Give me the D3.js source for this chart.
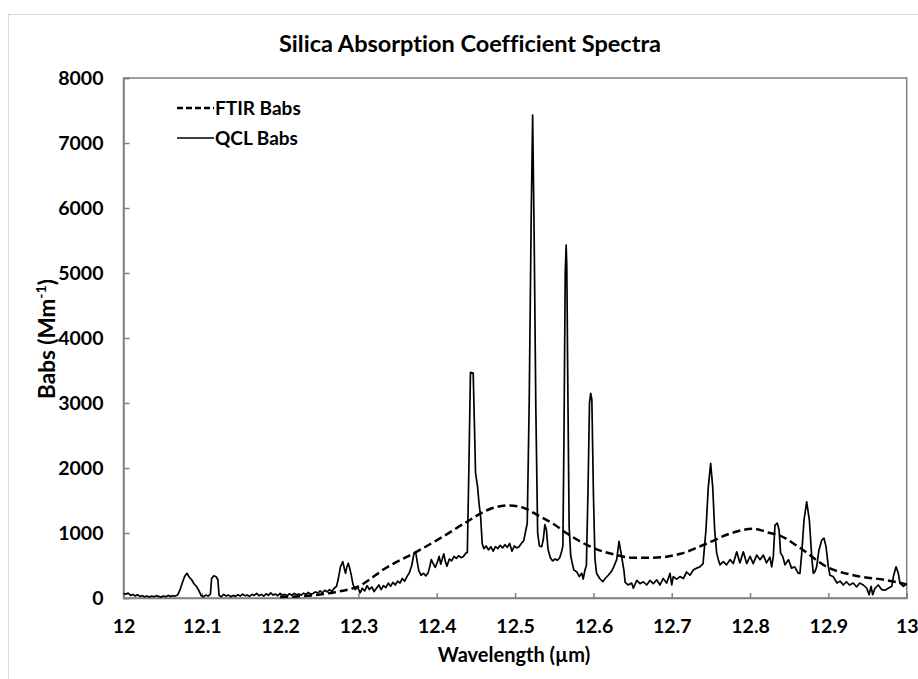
<!DOCTYPE html>
<html>
<head>
<meta charset="utf-8">
<script src="https://cdn.jsdelivr.net/npm/d3@7"></script>
<style>
  html, body { margin: 0; padding: 0; background: #fff; }
  svg { display: block; font-family: Lato, "Open Sans", sans-serif; font-variant-ligatures: none; font-feature-settings: "liga" 0, "clig" 0; }
</style>
</head>
<body>
<svg id="chart" width="918" height="679"></svg>
<script>
// ---------------- data ----------------
const xTicks = [12, 12.1, 12.2, 12.3, 12.4, 12.5, 12.6, 12.7, 12.8, 12.9, 13];
const yTicks = [0, 1000, 2000, 3000, 4000, 5000, 6000, 7000, 8000];
const seriesNames = ["FTIR Babs", "QCL Babs"];

const ftirWavelength = [12.20, 12.24, 12.27, 12.30, 12.336, 12.374, 12.41, 12.438, 12.468, 12.493, 12.51, 12.528, 12.55, 12.566, 12.60, 12.63, 12.65, 12.676, 12.711, 12.745, 12.774, 12.804, 12.825, 12.838, 12.864, 12.898, 12.932, 12.974, 13.0];
const ftirBabs = [15, 40, 90, 180, 470, 710, 960, 1170, 1370, 1425, 1390, 1280, 1130, 995, 770, 660, 620, 620, 680, 840, 990, 1065, 1000, 960, 770, 480, 350, 275, 210];

const qclWavelength = [
  12.000, 12.003, 12.006, 12.009, 12.012, 12.015, 12.018, 12.021, 12.024, 12.027, 12.030, 12.033, 12.036, 12.039, 12.042, 12.045, 12.048, 12.051, 12.054, 12.057, 12.060, 12.063, 12.066, 12.069,
  12.072, 12.075, 12.078, 12.081, 12.084, 12.087, 12.090, 12.093, 12.096, 12.099, 12.102, 12.105, 12.108, 12.111, 12.1125, 12.115, 12.118, 12.1205, 12.122, 12.125, 12.128, 12.131, 12.134, 12.137, 12.140, 12.143, 12.146, 12.149,
  12.152, 12.155, 12.158, 12.161, 12.164, 12.167, 12.170, 12.173, 12.176, 12.179, 12.182, 12.185, 12.188, 12.191, 12.194, 12.197, 12.200, 12.203, 12.206, 12.209, 12.212, 12.215, 12.218, 12.221, 12.224, 12.227, 12.230, 12.233, 12.236, 12.239, 12.242, 12.245, 12.248, 12.251, 12.254, 12.257, 12.260, 12.263, 12.266, 12.269,
  12.272, 12.274, 12.277, 12.280, 12.282, 12.2835, 12.285, 12.287, 12.289, 12.291, 12.293, 12.296, 12.299, 12.302, 12.305, 12.308, 12.311, 12.314, 12.317, 12.320, 12.323, 12.326, 12.329, 12.332, 12.335, 12.338, 12.341, 12.344, 12.347, 12.350, 12.353, 12.356, 12.359, 12.362, 12.365, 12.368,
  12.371, 12.373, 12.375, 12.377, 12.380, 12.383, 12.386, 12.389, 12.391, 12.393, 12.395, 12.398, 12.401, 12.403, 12.405, 12.407, 12.409, 12.411, 12.413, 12.416, 12.419, 12.422, 12.425, 12.428, 12.431, 12.434, 12.437, 12.439,
  12.441, 12.443, 12.4465, 12.448, 12.4495, 12.452, 12.454, 12.456, 12.458, 12.460, 12.463, 12.466, 12.469, 12.472, 12.475, 12.478, 12.481, 12.484, 12.487, 12.490, 12.493, 12.496, 12.499, 12.502, 12.505, 12.508, 12.511, 12.513,
  12.5155, 12.518, 12.5205, 12.5224, 12.5243, 12.5265, 12.5288, 12.531, 12.534, 12.536, 12.538, 12.540, 12.542, 12.545, 12.548, 12.551, 12.554, 12.557, 12.5595,
  12.561, 12.5625, 12.564, 12.5652, 12.566, 12.5675, 12.569, 12.571, 12.5725, 12.575, 12.5786, 12.582, 12.585, 12.587, 12.589,
  12.591, 12.593, 12.595, 12.5965, 12.598, 12.600, 12.602, 12.604, 12.608, 12.612, 12.615, 12.619, 12.623, 12.626, 12.6297, 12.6327, 12.636, 12.639, 12.6405,
  12.6445, 12.6488, 12.651, 12.6553, 12.6595, 12.6637, 12.668, 12.6722, 12.6765, 12.6808, 12.685, 12.689, 12.6936, 12.6978, 12.700, 12.702, 12.7063, 12.7105, 12.7148, 12.719, 12.7233, 12.7275, 12.732, 12.736, 12.740,
  12.7437, 12.7467, 12.7497, 12.7523, 12.7548, 12.7574, 12.7595, 12.7616, 12.7658, 12.770, 12.7744, 12.7786, 12.783, 12.787, 12.7914, 12.7957, 12.800, 12.804, 12.8085, 12.8127, 12.817, 12.821, 12.8253,
  12.8276, 12.8297, 12.8318, 12.8348, 12.837, 12.839, 12.8417, 12.8446, 12.849, 12.853, 12.857, 12.8616, 12.8637, 12.866, 12.8689, 12.8723, 12.8757, 12.8787, 12.8807, 12.883, 12.885, 12.888, 12.8915, 12.8944, 12.897, 12.900,
  12.902, 12.906, 12.911, 12.915, 12.919, 12.923, 12.927, 12.9318, 12.936, 12.940, 12.9446, 12.949, 12.952, 12.9545, 12.9566, 12.9595, 12.9637, 12.968, 12.972, 12.9765, 12.981, 12.983, 12.9864, 12.9893, 12.9914, 12.9957, 13.0
];
const qclBabs = [
  70, 60, 75, 40, 55, 30, 50, 25, 35, 20, 30, 15, 30, 20, 35, 25, 15, 30, 20, 40, 25, 35, 30, 45,
  120, 230, 330, 380, 320, 280, 220, 180, 120, 40, 20, 45, 30, 60, 300, 340, 330, 280, 40, 20, 55, 30, 45, 20, 40, 25, 50, 30,
  60, 35, 45, 25, 55, 40, 70, 35, 55, 30, 65, 40, 80, 45, 60, 35, 70, 45, 55, 35, 65, 40, 70, 50, 60, 45, 75, 55, 85, 60, 70, 95, 75, 110, 80, 120, 95, 130, 100, 150,
  180, 280, 480, 560, 450, 380, 470, 535, 450, 340, 210, 130, 170, 80, 150, 110, 190, 130, 170, 100, 150, 200, 130, 190, 160, 230, 180, 240, 200, 260, 230, 300, 260, 330, 390, 500,
  690, 710, 560, 420, 350, 380, 340, 390, 480, 590, 540, 470, 560, 640, 520, 600, 680, 560, 490, 600, 570, 640, 610, 650, 620, 640, 690, 700,
  2000, 3470, 3460, 2700, 1920, 1720, 1450, 1250, 840, 760, 800, 740, 790, 720, 790, 760, 810, 770, 820, 780, 840, 720, 800, 770, 790, 840, 880, 1000,
  1150, 3000, 5800, 7430, 5600, 2900, 1000, 800, 790, 900, 1130, 1050, 750, 620, 570, 600, 580, 620, 720,
  800, 2600, 5000, 5430, 5100, 3000, 1100, 650, 560, 430, 405, 330, 380, 290, 420,
  500, 1600, 3000, 3150, 3050, 1600, 600, 380, 300, 250, 300, 350, 410, 480, 590, 870, 640, 420, 240,
  200, 230, 150, 270, 220, 250, 200, 270, 220, 280, 200, 300, 230, 380, 200, 330, 290, 330, 300, 400, 350, 430, 460, 480, 530,
  1050, 1710, 2070, 1710, 1050, 690, 590, 510, 560, 510, 590, 530, 710, 540, 710, 530, 640, 530, 660, 590, 660, 540, 630,
  480, 640, 1120, 1150, 1050, 690, 640, 510, 590, 460, 480, 380, 380, 690, 1200, 1480, 1200, 640, 380, 410, 480, 740, 890, 920, 790, 480,
  350, 330, 230, 260, 200, 250, 200, 230, 170, 230, 200, 150, 50, 180, 50, 150, 200, 130, 120, 150, 180, 330, 480, 380, 230, 180, 220
];

// ---------------- layout ----------------
const svg = d3.select("#chart");
const plot = { left: 123.5, right: 906.7, top: 78, bottom: 598 };
const axisGray = "#808080";

const x = d3.scaleLinear().domain([12, 13]).range([plot.left, plot.right]);
const y = d3.scaleLinear().domain([0, 8000]).range([plot.bottom, plot.top]);

// outer chart-area border (light gray)
svg.append("rect")
  .attr("x", 8.5).attr("y", 14.5).attr("width", 1000).attr("height", 1000)
  .attr("fill", "none").attr("stroke", "#d9d9d9").attr("stroke-width", 1);

// title
svg.append("text")
  .attr("x", 470).attr("y", 52)
  .attr("text-anchor", "middle")
  .attr("font-size", 23.5).attr("font-weight", "bold").attr("fill", "#000")
  .text("Silica Absorption Coefficient Spectra");

// plot area border
svg.append("rect")
  .attr("x", plot.left).attr("y", plot.top)
  .attr("width", plot.right - plot.left).attr("height", plot.bottom - plot.top)
  .attr("fill", "none").attr("stroke", axisGray).attr("stroke-width", 1.5);

// axes
const xAxis = d3.axisBottom(x).tickValues(xTicks).tickSize(-5).tickPadding(21)
  .tickFormat(d => d3.format("")(+d.toFixed(1)));
const yAxis = d3.axisLeft(y).tickValues(yTicks).tickSize(-6).tickPadding(20)
  .tickFormat(d3.format("d"));

const gx = svg.append("g").attr("transform", `translate(0,${plot.bottom})`).call(xAxis);
const gy = svg.append("g").attr("transform", `translate(${plot.left},0)`).call(yAxis);
[gx, gy].forEach(g => {
  g.select(".domain").attr("stroke", axisGray).attr("stroke-width", 1.5);
  g.selectAll(".tick line").attr("stroke", axisGray).attr("stroke-width", 1.5);
  g.selectAll(".tick text").attr("fill", "#000").attr("font-size", 19.5).attr("font-weight", "bold")
    .attr("font-family", "Lato, 'Open Sans', sans-serif");
});

// axis titles
svg.append("text")
  .attr("x", 514).attr("y", 662)
  .attr("text-anchor", "middle")
  .attr("font-size", 20).attr("font-weight", "bold").attr("fill", "#000")
  .text("Wavelength (µm)");

const yt = svg.append("text")
  .attr("transform", "translate(55,339) rotate(-90)")
  .attr("text-anchor", "middle")
  .attr("font-size", 22.5).attr("font-weight", "bold").attr("fill", "#000");
yt.append("tspan").text("Babs (Mm");
yt.append("tspan").attr("font-size", 14).attr("dy", -9).text("-1");
yt.append("tspan").attr("dy", 9).text(")");

// data lines
const ftirData = ftirWavelength.map((w, i) => ({ w, v: ftirBabs[i] }));
const qclData = qclWavelength.map((w, i) => ({ w, v: qclBabs[i] }));

const smoothLine = d3.line().x(d => x(d.w)).y(d => y(d.v)).curve(d3.curveMonotoneX);
const rawLine = d3.line().x(d => x(d.w)).y(d => y(d.v));

svg.append("path").datum(ftirData)
  .attr("d", smoothLine)
  .attr("fill", "none").attr("stroke", "#000").attr("stroke-width", 2.5)
  .attr("stroke-dasharray", "8,4");

svg.append("path").datum(qclData)
  .attr("d", rawLine)
  .attr("fill", "none").attr("stroke", "#000").attr("stroke-width", 1.7)
  .attr("stroke-linejoin", "round");

// legend
const legend = svg.append("g");
const legendRows = [
  { name: seriesNames[0], y: 108, dash: "6,3", w: 2.5 },
  { name: seriesNames[1], y: 138, dash: null, w: 1.7 }
];
legendRows.forEach(r => {
  legend.append("line")
    .attr("x1", 177).attr("x2", 214).attr("y1", r.y).attr("y2", r.y)
    .attr("stroke", "#000").attr("stroke-width", r.w)
    .attr("stroke-dasharray", r.dash);
  legend.append("text")
    .attr("x", 215).attr("y", r.y + 7)
    .attr("font-size", 19).attr("font-weight", "bold").attr("fill", "#000")
    .text(r.name);
});
</script>
</body>
</html>
